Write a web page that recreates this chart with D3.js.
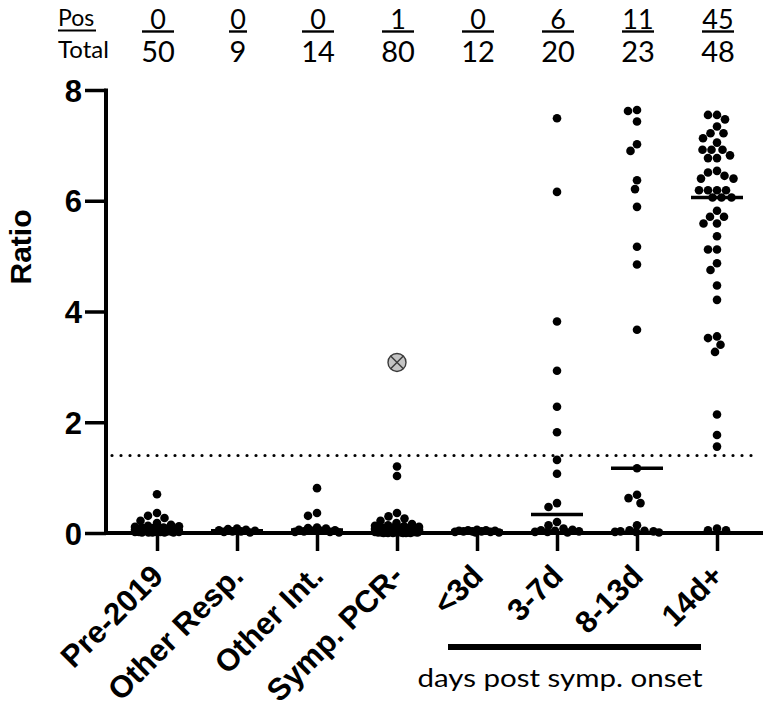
<!DOCTYPE html>
<html>
<head>
<meta charset="utf-8">
<script src="https://cdn.jsdelivr.net/npm/d3@7"></script>
<style>
    body { margin: 0; background: #fff; }
    svg { display: block; }
    .bold { font-family: "Liberation Sans", Arial, sans-serif; font-weight: bold; }
    .cal { font-family: Lato, "Open Sans", sans-serif; }
</style>
</head>
<body>
<svg class="chart" width="766" height="714"></svg>
<script>

const categories = ['Pre-2019', 'Other Resp.', 'Other Int.', 'Symp. PCR-', '<3d', '3-7d', '8-13d', '14d+'];
const posCounts   = [0, 0, 0, 1, 0, 6, 11, 45];
const totalCounts = [50, 9, 14, 80, 12, 20, 23, 48];
const yTicks = [0, 2, 4, 6, 8];
const threshold = 1.4;

const pre2019 = [0.70, 0.36, 0.31, 0.27, 0.22, 0.18, 0.15, 0.13, 0.12, 0.11,
    0.10, 0.10, 0.09, 0.09, 0.08, 0.08, 0.08, 0.07, 0.07, 0.07,
    0.06, 0.06, 0.06, 0.06, 0.05, 0.05, 0.05, 0.05, 0.05, 0.05,
    0.04, 0.04, 0.04, 0.04, 0.04, 0.03, 0.03, 0.03, 0.03, 0.03,
    0.02, 0.02, 0.02, 0.02, 0.02, 0.01, 0.01, 0.01, 0.01, 0.01];
const otherResp = [0.08, 0.07, 0.06, 0.05, 0.04, 0.03, 0.03, 0.02, 0.01];
const otherInt = [0.81, 0.36, 0.31, 0.10, 0.09, 0.08, 0.06, 0.05, 0.04, 0.04, 0.03, 0.02, 0.02, 0.01];
// the one positive Symp. PCR- sample is drawn as a crossed grey circle
const sympPcrPositive = [3.08];
const sympPcrNeg = [1.20, 1.03, 0.36, 0.30, 0.26, 0.22, 0.18, 0.16, 0.14,
    0.13, 0.12, 0.11, 0.10, 0.10, 0.09, 0.09, 0.09, 0.08, 0.08,
    0.08, 0.08, 0.07, 0.07, 0.07, 0.07, 0.07, 0.06, 0.06, 0.06,
    0.06, 0.06, 0.06, 0.05, 0.05, 0.05, 0.05, 0.05, 0.05, 0.05,
    0.04, 0.04, 0.04, 0.04, 0.04, 0.04, 0.04, 0.04, 0.03, 0.03,
    0.03, 0.03, 0.03, 0.03, 0.03, 0.03, 0.03, 0.02, 0.02, 0.02,
    0.02, 0.02, 0.02, 0.02, 0.02, 0.02, 0.02, 0.02, 0.02, 0.01, 0.01, 0.01, 0.01,
    0.01, 0.01, 0.01, 0.01, 0.00, 0.00, 0.00, 0.00, 0.00, 0.00];
const lt3d = [0.06, 0.05, 0.05, 0.04, 0.04, 0.03, 0.03, 0.03, 0.02, 0.02, 0.01, 0.01];
const d3to7 = [7.49, 6.16, 3.82, 2.93, 2.28, 1.82, 1.32, 1.07, 0.54, 0.47,
    0.20, 0.14, 0.08, 0.06, 0.05, 0.04, 0.03, 0.02, 0.02, 0.01];
const d8to13 = [7.64, 7.62, 7.43, 7.02, 6.90, 6.37, 6.21, 5.89, 5.17, 4.85, 3.67,
    1.17, 0.69, 0.63, 0.54, 0.14, 0.05, 0.04, 0.03, 0.03, 0.02, 0.02, 0.01];
const d14plus = [7.55, 7.55, 7.47, 7.34, 7.22, 7.22, 7.13, 7.05, 6.92, 6.92, 6.92,
    6.82, 6.77, 6.77, 6.54, 6.51, 6.45, 6.40, 6.40, 6.19, 6.19, 6.19, 6.19,
    6.06, 6.06, 6.06, 5.82, 5.71, 5.71, 5.59, 5.59, 5.36, 5.12, 5.12, 4.87, 4.75,
    4.47, 4.21, 3.55, 3.52, 3.40, 3.27, 2.14, 1.77, 1.56, 0.08, 0.05, 0.05];

const groups = [pre2019, otherResp, otherInt, sympPcrNeg.concat(sympPcrPositive), lt3d, d3to7, d8to13, d14plus];

const svg = d3.select('.chart');

const x = d3.scalePoint().domain(categories).range([157, 717]);
const y = d3.scaleLinear().domain([0, 8]).range([533, 90]);

const axisLeftX = 106;
const dotR = 4.3;
const dotD = 2 * dotR;
const halfSpan = 22;

// greedy beeswarm, clamped to the column width: where no free slot is left
// the point goes where it overlaps the least (the dense blobs near 0)
function swarm(values, cx) {

    const pts = values.map(v => ({ v: v, y: y(v) })).sort((a, b) => a.y - b.y);
    const placed = [];

    const offsets = [0];
    for (let o = 0.5; o <= halfSpan; o += 0.5) offsets.push(-o, o);

    pts.forEach(p => {

        let best = null, bestScore = -1;

        for (const o of offsets) {
            let minD = Infinity;
            for (const q of placed) {
                const d = Math.hypot(q.dx - o, q.y - p.y);
                if (d < minD) minD = d;
            }
            if (minD >= dotD + 0.4) { best = o; break; }
            if (minD > bestScore) { bestScore = minD; best = o; }
        }

        p.dx = best;
        p.x = cx + best;
        placed.push(p);
    });

    return pts;
}

// threshold
svg.append('line')
    .attr('x1', axisLeftX + 6).attr('x2', 757)
    .attr('y1', y(threshold)).attr('y2', y(threshold))
    .attr('stroke', '#000')
    .attr('stroke-width', 3.2)
    .attr('stroke-linecap', 'round')
    .attr('stroke-dasharray', '0 9');

// y axis
const yAxis = svg.append('g')
    .attr('transform', `translate(${axisLeftX},0)`)
    .call(d3.axisLeft(y).tickValues(yTicks).tickSize(21).tickSizeOuter(0).tickPadding(3));

yAxis.select('.domain').remove();
yAxis.selectAll('.tick line').attr('stroke', '#000').attr('stroke-width', 3.5);
yAxis.selectAll('.tick text')
    .attr('class', 'bold')
    .attr('font-size', 31)
    .attr('dy', '0.36em')
    .attr('fill', '#000');

svg.append('line')
    .attr('x1', axisLeftX).attr('x2', axisLeftX)
    .attr('y1', y(8) - 1.5).attr('y2', y(0) + 2)
    .attr('stroke', '#000').attr('stroke-width', 4);

svg.append('text')
    .attr('class', 'bold')
    .attr('font-size', 30)
    .attr('text-anchor', 'middle')
    .attr('transform', 'translate(31,247) rotate(-90)')
    .text('Ratio');

// x axis
const xAxis = svg.append('g')
    .attr('transform', `translate(0,${y(0)})`)
    .call(d3.axisBottom(x).tickSize(18).tickSizeOuter(0).tickFormat(''));

xAxis.select('.domain').remove();
xAxis.selectAll('.tick line').attr('stroke', '#000').attr('stroke-width', 3.5);

svg.append('line')
    .attr('x1', axisLeftX - 2).attr('x2', 763)
    .attr('y1', y(0)).attr('y2', y(0))
    .attr('stroke', '#000').attr('stroke-width', 4);

svg.append('g')
    .selectAll('text')
    .data(categories)
    .join('text')
    .attr('class', 'bold')
    .attr('font-size', 31)
    .attr('text-anchor', 'end')
    .attr('transform', d => `translate(${x(d) + 8},578) rotate(-45)`)
    .text(d => d);

// bracket under the day groups
svg.append('line')
    .attr('x1', x('<3d') - 29).attr('x2', x('14d+') - 16)
    .attr('y1', 647).attr('y2', 647)
    .attr('stroke', '#000').attr('stroke-width', 6);

svg.append('text')
    .attr('class', 'cal')
    .attr('font-size', 25)
    .attr('x', 560).attr('y', 687)
    .attr('text-anchor', 'middle')
    .attr('textLength', 285)
    .attr('lengthAdjust', 'spacingAndGlyphs')
    .text('days post symp. onset');

// dots
const dotLayer = svg.append('g');

groups.forEach((vals, gi) => {

    const cat = categories[gi];
    const pts = swarm(vals, x(cat));

    const plain = pts.filter(p => !(cat === 'Symp. PCR-' && sympPcrPositive.includes(p.v)));

    dotLayer.append('g')
        .selectAll('circle')
        .data(plain)
        .join('circle')
        .attr('cx', p => p.x)
        .attr('cy', p => p.y)
        .attr('r', dotR)
        .attr('fill', '#000');

    // median
    const med = d3.median(vals);
    dotLayer.append('line')
        .attr('x1', x(cat) - 26).attr('x2', x(cat) + 26)
        .attr('y1', y(med)).attr('y2', y(med))
        .attr('stroke', '#000').attr('stroke-width', 3.5);

});

// positive symptomatic PCR- sample
const crossR = 9;
const cross = dotLayer.selectAll('g.cross')
    .data(sympPcrPositive)
    .join('g')
    .attr('class', 'cross')
    .attr('transform', v => `translate(${x('Symp. PCR-')},${y(v)})`);

cross.append('circle')
    .attr('r', crossR)
    .attr('fill', '#c4c4c4')
    .attr('stroke', '#3a3a3a')
    .attr('stroke-width', 1.4);

[[-1, -1, 1, 1], [-1, 1, 1, -1]].forEach(c => {
    const k = crossR * 0.707;
    cross.append('line')
        .attr('x1', c[0] * k).attr('y1', c[1] * k)
        .attr('x2', c[2] * k).attr('y2', c[3] * k)
        .attr('stroke', '#3a3a3a').attr('stroke-width', 1.4);
});

// header: positive / total
svg.append('text')
    .attr('class', 'cal')
    .attr('font-size', 23)
    .attr('x', 58).attr('y', 26)
    .text('Pos');

svg.append('line')
    .attr('x1', 58).attr('x2', 96)
    .attr('y1', 30.5).attr('y2', 30.5)
    .attr('stroke', '#000').attr('stroke-width', 2);

svg.append('text')
    .attr('class', 'cal')
    .attr('font-size', 24)
    .attr('x', 58).attr('y', 58)
    .text('Total');

const header = svg.append('g')
    .selectAll('g')
    .data(categories)
    .join('g')
    .attr('transform', d => `translate(${x(d) + 1},0)`);

header.append('text')
    .attr('class', 'cal')
    .attr('font-size', 27)
    .attr('text-anchor', 'middle')
    .attr('y', 28.5)
    .text((d, i) => posCounts[i]);

header.append('text')
    .attr('class', 'cal')
    .attr('font-size', 29)
    .attr('text-anchor', 'middle')
    .attr('y', 61.5)
    .text((d, i) => totalCounts[i]);

header.append('line')
    .attr('x1', (d, i) => -(String(Math.max(posCounts[i], totalCounts[i])).length > 1 ? 16 : 9))
    .attr('x2', (d, i) => (String(Math.max(posCounts[i], totalCounts[i])).length > 1 ? 16 : 9))
    .attr('y1', 31.5).attr('y2', 31.5)
    .attr('stroke', '#000').attr('stroke-width', 2.4);

</script>
</body>
</html>
